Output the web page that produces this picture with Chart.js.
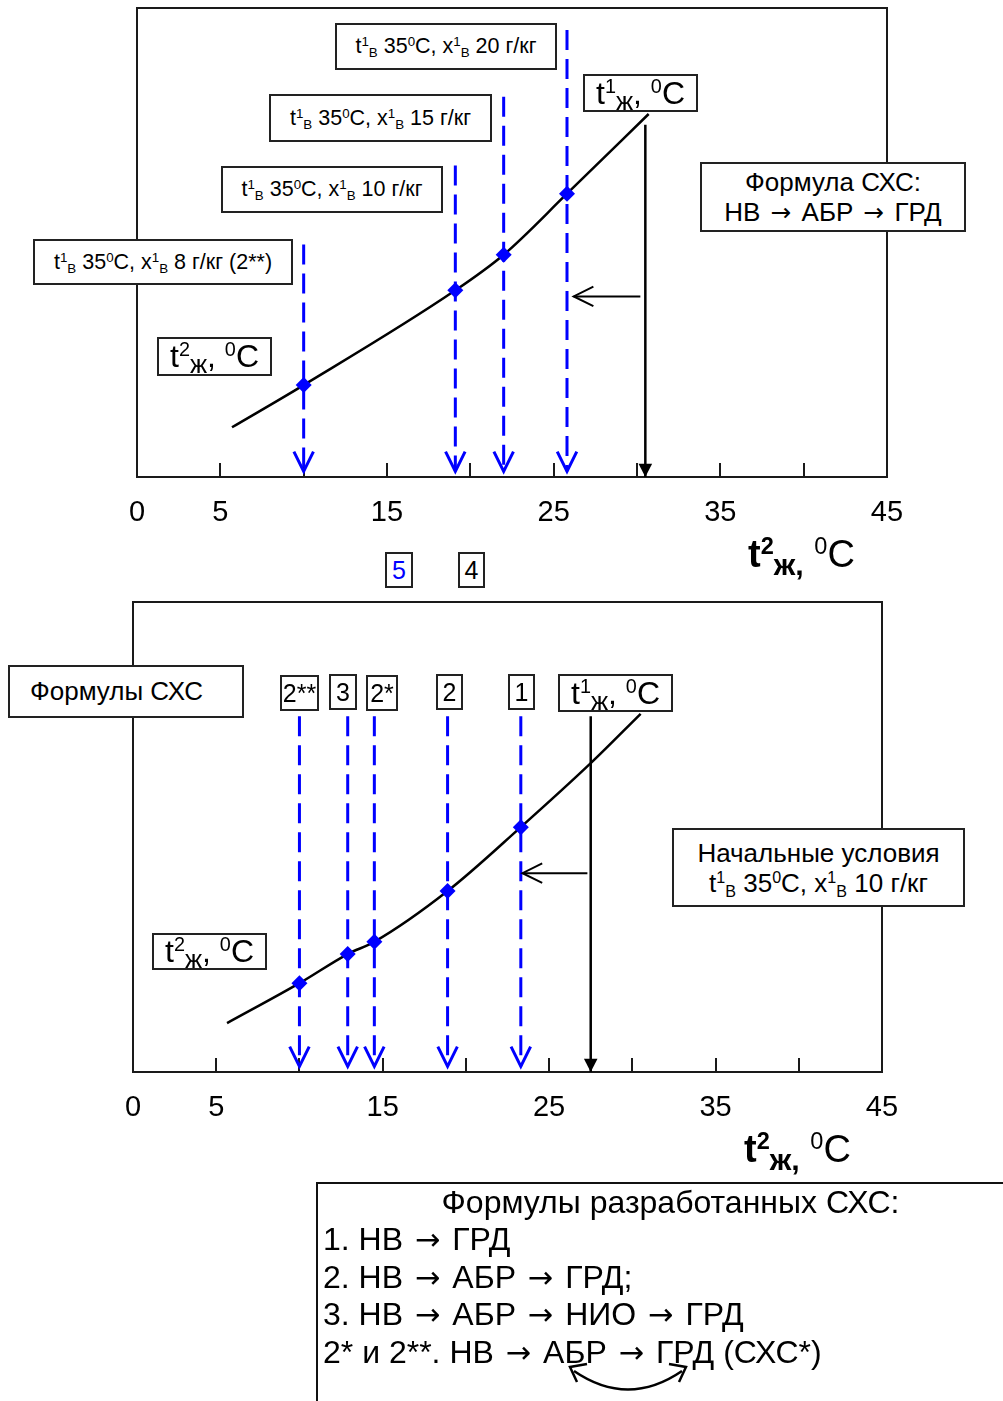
<!DOCTYPE html>
<html lang="ru">
<head>
<meta charset="utf-8">
<script src="https://cdn.jsdelivr.net/npm/chart.js@4.4.1/dist/chart.umd.min.js"></script>
<style>
  body { margin: 0; background: #fff; width: 1003px; height: 1401px; position: relative; overflow: hidden;
         font-family: "Liberation Sans", Arial, sans-serif; color: #000; }
  canvas { position: absolute; left: 0; }
  .bx { position: absolute; box-sizing: border-box; border: 2px solid #222; background: #fff;
        display: flex; align-items: center; justify-content: center; white-space: nowrap; z-index: 2; }
  .bx sup, .ttl sup { font-size: 0.62em; vertical-align: 0.55em; line-height: 0; }
  .bx sub { font-size: 0.62em; vertical-align: -0.3em; line-height: 0; }
  .s20 { font-size: 21.5px; }
  .s25 { font-size: 25px; }
  .s26 { font-size: 26px; }
  .big { font-size: 32px; }
  .big sub, .ttl sub { font-size: 0.8em; vertical-align: -0.25em; line-height: 0; }
  .two { flex-direction: column; line-height: 30px; }
  .ttl { position: absolute; font-size: 38px; white-space: nowrap; z-index: 2; }
  .ar { font-family: "DejaVu Sans", sans-serif; font-size: 0.95em; margin: 0 3px; }
  .formulas { position: absolute; left: 316px; top: 1182px; width: 702px; height: 240px; box-sizing: border-box;
              border-left: 2px solid #111; border-top: 2px solid #111; font-size: 32px; line-height: 36.8px;
              padding: 0 0 0 5px; white-space: nowrap; }
  .formulas .hd { text-align: center; }
  svg { position: absolute; left: 0; top: 0; z-index: 3; }
</style>
</head>
<body>
<canvas id="topChart" width="1003" height="600" style="top:0"></canvas>
<canvas id="botChart" width="1003" height="600" style="top:590px"></canvas>

<!-- upper diagram labels -->
<div class="bx s20" style="left:335px;top:23px;width:222px;height:47px"><span>t<sup>1</sup><sub>В</sub> 35<sup>0</sup>C, x<sup>1</sup><sub>В</sub> 20 г/кг</span></div>
<div class="bx s20" style="left:269px;top:94px;width:223px;height:48px"><span>t<sup>1</sup><sub>В</sub> 35<sup>0</sup>C, x<sup>1</sup><sub>В</sub> 15 г/кг</span></div>
<div class="bx s20" style="left:221px;top:166px;width:222px;height:47px"><span>t<sup>1</sup><sub>В</sub> 35<sup>0</sup>C, x<sup>1</sup><sub>В</sub> 10 г/кг</span></div>
<div class="bx s20" style="left:33px;top:239px;width:260px;height:46px"><span>t<sup>1</sup><sub>В</sub> 35<sup>0</sup>C, x<sup>1</sup><sub>В</sub> 8 г/кг (2**)</span></div>
<div class="bx big" style="left:583px;top:74px;width:115px;height:38px"><span>t<sup>1</sup><sub>ж</sub>, <sup>0</sup>C</span></div>
<div class="bx big" style="left:157px;top:337px;width:115px;height:39px"><span>t<sup>2</sup><sub>ж</sub>, <sup>0</sup>C</span></div>
<div class="bx s26 two" style="left:700px;top:162px;width:266px;height:70px"><span>Формула СХС:</span><span>НВ <span class="ar">→</span> АБР <span class="ar">→</span> ГРД</span></div>
<div class="ttl" style="left:748px;top:533px"><b>t<sup>2</sup><sub>ж,</sub></b> <sup>0</sup>C</div>
<div class="bx s25" style="left:385px;top:552px;width:28px;height:36px;color:#0000ff"><span>5</span></div>
<div class="bx s25" style="left:458px;top:552px;width:27px;height:36px"><span>4</span></div>

<!-- lower diagram labels -->
<div class="bx s26" style="left:8px;top:665px;width:236px;height:53px;justify-content:flex-start;padding-left:20px"><span>Формулы СХС</span></div>
<div class="bx s25" style="left:280px;top:675px;width:39px;height:36px"><span>2**</span></div>
<div class="bx s25" style="left:329px;top:674px;width:28px;height:36px"><span>3</span></div>
<div class="bx s25" style="left:366px;top:675px;width:32px;height:36px"><span>2*</span></div>
<div class="bx s25" style="left:436px;top:674px;width:27px;height:36px"><span>2</span></div>
<div class="bx s25" style="left:508px;top:674px;width:27px;height:36px"><span>1</span></div>
<div class="bx big" style="left:558px;top:674px;width:115px;height:38px"><span>t<sup>1</sup><sub>ж</sub>, <sup>0</sup>C</span></div>
<div class="bx s26 two" style="left:672px;top:828px;width:293px;height:79px"><span>Начальные условия</span><span>t<sup>1</sup><sub>В</sub> 35<sup>0</sup>C, x<sup>1</sup><sub>В</sub> 10 г/кг</span></div>
<div class="bx big" style="left:152px;top:933px;width:115px;height:37px"><span>t<sup>2</sup><sub>ж</sub>, <sup>0</sup>C</span></div>
<div class="ttl" style="left:744px;top:1128px"><b>t<sup>2</sup><sub>ж,</sub></b> <sup>0</sup>C</div>

<div class="formulas">
  <div class="hd">Формулы разработанных СХС:</div>
  <div>1. НВ <span class="ar">→</span> ГРД</div>
  <div>2. НВ <span class="ar">→</span> АБР <span class="ar">→</span> ГРД;</div>
  <div>3. НВ <span class="ar">→</span> АБР <span class="ar">→</span> НИО <span class="ar">→</span> ГРД</div>
  <div>2* и 2**. НВ <span class="ar">→</span> АБР <span class="ar">→</span> ГРД (СХС*)</div>
</div>
<svg width="1003" height="1401">
  <g fill="none" stroke="#000" stroke-width="2.5">
    <path d="M574 1371 Q628 1408 682 1371"/>
    <polyline points="587,1364 570,1367 577,1382"/>
    <polyline points="669,1364 686,1367 679,1382"/>
  </g>
</svg>

<script>
// axis
const xTickLabels = [0, 5, 15, 25, 35, 45];
const xTickMarks = [5, 10, 15, 20, 25, 30, 35, 40];

// upper diagram: t2ж vs t1ж for different x1в
const topCurveX = [5.7, 10, 19.1, 22, 25.8, 30.7];
const topCurveY = [10.6, 19.6, 39.8, 47.4, 60.4, 77.4];
const topMarkX = [10, 19.1, 22, 25.8];
const topMarkY = [19.6, 39.8, 47.4, 60.4];
const topDropTop = [49.6, 66.4, 81.1, 95.3];
const topT1 = { x: 30.5, top: 75.1 };
const topBack = { y: 38.5, from: 30.2, to: 26.2 };

// lower diagram: schemes 2**, 3, 2*, 2, 1
const botCurveX = [5.65, 10, 12.9, 14.5, 18.9, 23.3, 27.5, 30.5];
const botCurveY = [10.4, 18.9, 25.1, 27.7, 38.5, 52.1, 65.7, 76.2];
const botMarkX = [10, 12.9, 14.5, 18.9, 23.3];
const botMarkY = [18.9, 25.1, 27.7, 38.5, 52.1];
const botDropTop = [75.7, 75.7, 75.7, 75.7, 75.7];
const botT1 = { x: 27.5, top: 75.7 };
const botBack = { y: 42.3, from: 27.3, to: 23.4 };

const dropEnd = 1.2;
const BLUE = '#0000ff';

const decor = {
  id: 'decor',
  beforeDatasetsDraw(chart) {
    const { ctx, chartArea: a, scales: { x } } = chart;
    ctx.save();
    ctx.strokeStyle = '#1a1a1a';
    ctx.lineWidth = 2;
    ctx.strokeRect(a.left, a.top, a.right - a.left, a.bottom - a.top);
    ctx.beginPath();
    xTickMarks.forEach(v => {
      const px = Math.round(x.getPixelForValue(v));
      ctx.moveTo(px, a.bottom);
      ctx.lineTo(px, a.bottom - 14);
    });
    ctx.stroke();
    ctx.restore();
  },
  afterDatasetsDraw(chart) {
    const ctx = chart.ctx;
    chart.data.datasets.forEach((ds, i) => {
      if (!ds.arrow) return;
      const pts = chart.getDatasetMeta(i).data;
      const p = pts[pts.length - 1], q = pts[pts.length - 2];
      const ang = Math.atan2(p.y - q.y, p.x - q.x);
      ctx.save();
      ctx.setLineDash([]);
      ctx.strokeStyle = ds.borderColor;
      ctx.fillStyle = ds.borderColor;
      ctx.lineWidth = ds.borderWidth;
      ctx.beginPath();
      if (ds.arrow === 'filled') {
        const L = 15, w = 0.47;
        ctx.moveTo(p.x, p.y);
        ctx.lineTo(p.x - L * Math.cos(ang - w), p.y - L * Math.sin(ang - w));
        ctx.lineTo(p.x - L * Math.cos(ang + w), p.y - L * Math.sin(ang + w));
        ctx.closePath();
        ctx.fill();
      } else {
        const L = 22, w = 0.46;
        ctx.moveTo(p.x - L * Math.cos(ang - w), p.y - L * Math.sin(ang - w));
        ctx.lineTo(p.x, p.y);
        ctx.lineTo(p.x - L * Math.cos(ang + w), p.y - L * Math.sin(ang + w));
        ctx.stroke();
      }
      ctx.restore();
    });
  }
};

function makeDatasets(curveX, curveY, markX, markY, dropTop, t1, back) {
  const sets = [];
  sets.push({
    data: markX.map((v, i) => ({ x: v, y: markY[i] })),
    showLine: false, pointStyle: 'rectRot', pointRadius: 8,
    backgroundColor: BLUE, borderWidth: 0
  });
  sets.push({
    data: curveX.map((v, i) => ({ x: v, y: curveY[i] })),
    showLine: true, cubicInterpolationMode: 'monotone',
    borderColor: '#000', borderWidth: 2.5, pointRadius: 0
  });
  markX.forEach((v, i) => sets.push({
    data: [{ x: v, y: dropTop[i] }, { x: v, y: dropEnd }],
    showLine: true, borderColor: BLUE, borderWidth: 3, borderDash: [20, 9],
    pointRadius: 0, arrow: 'open'
  }));
  sets.push({
    data: [{ x: t1.x, y: t1.top }, { x: t1.x, y: 0 }],
    showLine: true, borderColor: '#000', borderWidth: 2.5, pointRadius: 0, arrow: 'filled'
  });
  sets.push({
    data: [{ x: back.from, y: back.y }, { x: back.to, y: back.y }],
    showLine: true, borderColor: '#000', borderWidth: 2, pointRadius: 0, arrow: 'open'
  });
  return sets;
}

function makeChart(id, datasets, pad) {
  return new Chart(document.getElementById(id), {
    type: 'scatter',
    data: { datasets },
    options: {
      responsive: false,
      animation: false,
      layout: { padding: pad },
      plugins: { legend: { display: false }, tooltip: { enabled: false } },
      scales: {
        x: {
          type: 'linear', min: 0, max: 45,
          grid: { display: false, drawTicks: false },
          border: { display: false },
          afterBuildTicks: s => { s.ticks = xTickLabels.map(v => ({ value: v })); },
          afterFit: s => { s.height = 60; },
          ticks: { color: '#000', padding: 19, maxRotation: 0, autoSkip: false,
                   font: { family: '"Liberation Sans", Arial, sans-serif', size: 29 } }
        },
        y: { type: 'linear', min: 0, max: 100, display: false }
      }
    },
    plugins: [decor]
  });
}

makeChart('topChart',
  makeDatasets(topCurveX, topCurveY, topMarkX, topMarkY, topDropTop, topT1, topBack),
  { top: 8, bottom: 63, left: 137, right: 116 });
makeChart('botChart',
  makeDatasets(botCurveX, botCurveY, botMarkX, botMarkY, botDropTop, botT1, botBack),
  { top: 12, bottom: 58, left: 133, right: 121 });
</script>
</body>
</html>
